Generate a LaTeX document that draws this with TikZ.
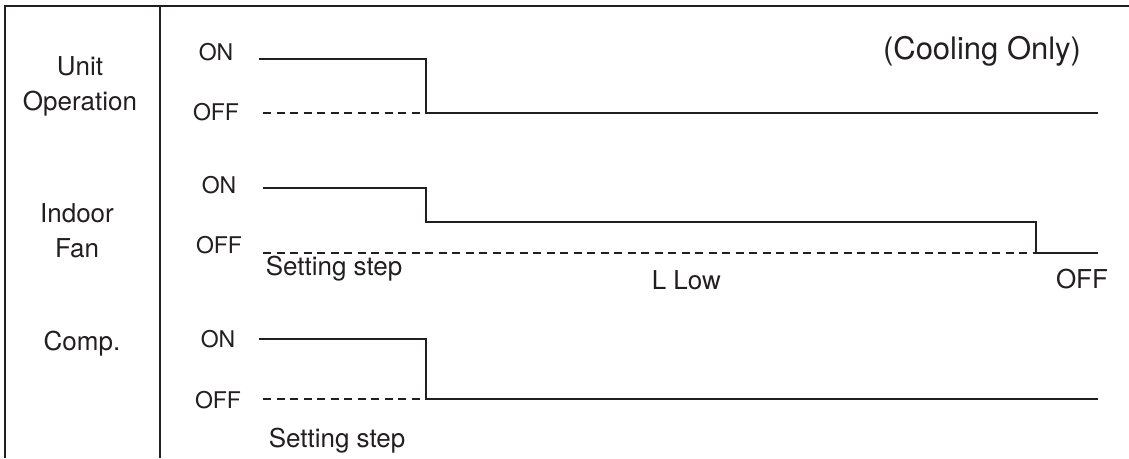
\documentclass[tikz,border=0pt]{standalone}
\usepackage{fontspec}
\setmainfont{TeX Gyre Heros}
\usepackage{xcolor}
\usetikzlibrary{positioning}
\definecolor{ink}{HTML}{231F20}

\begin{document}
\begin{tikzpicture}[
  x=1pt, y=-1pt, color=ink, line width=1.5pt,
  lab/.style={anchor=base, align=center, inner sep=0pt,
              font=\fontsize{26}{35}\selectfont},
  state/.style={anchor=base, inner sep=0pt, font=\fontsize{23}{27}\selectfont},
  note/.style={anchor=base west, inner sep=0pt, font=\fontsize{26}{30}\selectfont},
  offline/.style={dash pattern=on 8pt off 5.5pt}
]
\useasboundingbox (0,0) rectangle (1129,458);
% frame
\coordinate (tl) at (5,6);
\coordinate (tr) at (1129,6);
\coordinate (bl) at (5,458);
\coordinate (dt) at (160,6);
\coordinate (db) at (160,458);
\draw (bl) -- (tl) -- (tr);
\draw (dt) -- (db);
% row labels (base = last line)
\node[lab] (unit) at (80,110) {Unit\\Operation};
\node[lab] (fan)  at (77,257) {Indoor\\Fan};
\node[lab] (comp) at (82,350) {Comp.};
\node[anchor=base, inner sep=0pt, font=\fontsize{31}{36}\selectfont]
  (cool) at (982,59) {(Cooling Only)};
% ON/OFF levels
\node[state] (uon)  at (216,60)  {ON};
\node[state] (uoff) at (216,120) {OFF};
\node[state] (fon)  at (219,193) {ON};
\node[state] (foff) at (219,253) {OFF};
\node[state] (con)  at (218,347) {ON};
\node[state] (coff) at (218,408) {OFF};
% unit operation
\coordinate (u1) at (259,59);
\coordinate (u2) at (426,59);
\coordinate (u3) at (426,113);
\coordinate (u4) at (1098,113);
\coordinate (u0) at (263,113);
\draw (u1) -- (u2) -- (u3) -- (u4);
\draw[offline] (u0) -- (u3);
% indoor fan
\coordinate (f1) at (263,188);
\coordinate (f2) at (426,188);
\coordinate (f3) at (426,222);
\coordinate (f4) at (1036,222);
\coordinate (f5) at (1036,253);
\coordinate (f6) at (1098,253);
\coordinate (f0) at (263,253);
\draw (f1) -- (f2) -- (f3) -- (f4) -- (f5) -- (f6);
\draw[offline] (f0) -- (f5);
\node[note] (fstep) at (265,275) {Setting step};
\node[note] (flow)  at (651,289) {L Low};
\node[note, anchor=base] (fend) at (1082,288) {OFF};
% compressor
\coordinate (c1) at (259,339);
\coordinate (c2) at (426,339);
\coordinate (c3) at (426,399);
\coordinate (c4) at (1098,399);
\coordinate (c0) at (263,399);
\draw (c1) -- (c2) -- (c3) -- (c4);
\draw[offline] (c0) -- (c3);
\node[note] (cstep) at (268,447) {Setting step};
\end{tikzpicture}
\end{document}
